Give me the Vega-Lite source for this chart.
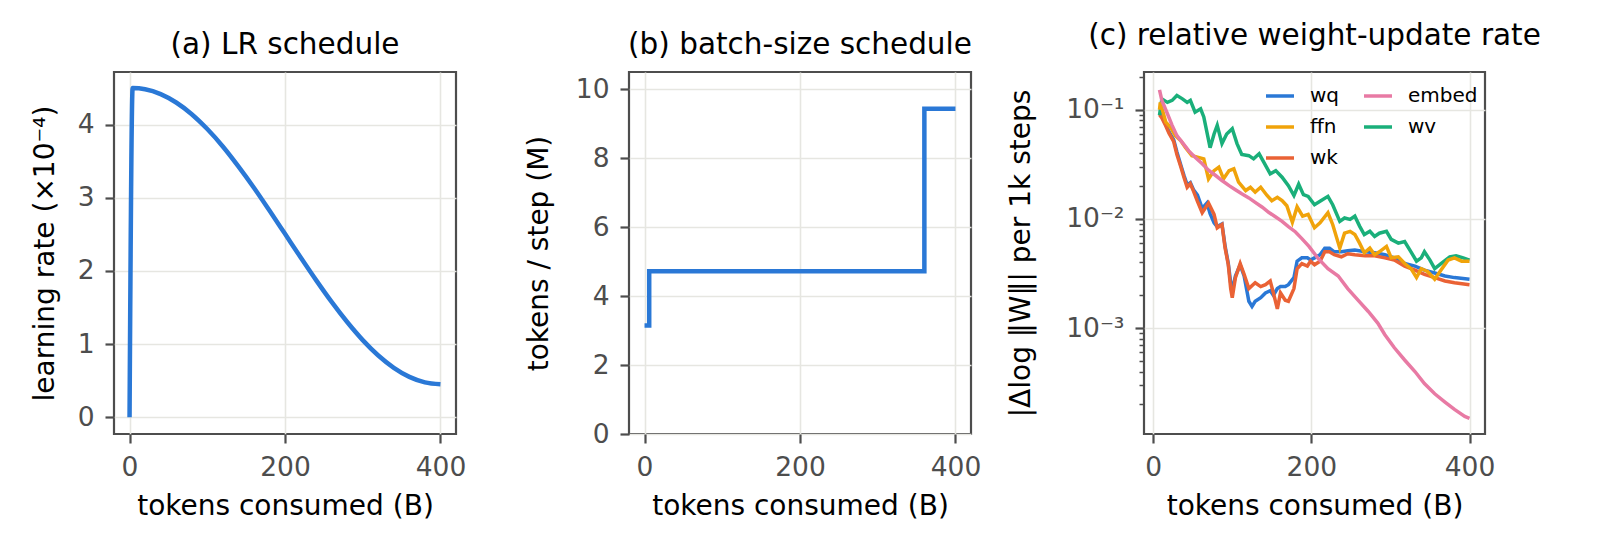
{
  "$schema": "https://vega.github.io/schema/vega-lite/v6.json",
  "background": "white",
  "padding": {"left": 30, "top": 20, "right": 10, "bottom": 10},
  "spacing": 173,
  "bounds": "flush",
  "resolve": {"legend": {"color": "independent"}},
  "datasets": {
    "lr": [
      {"tokens": 0, "lr": 0}, {"tokens": 4, "lr": 4.5}, {"tokens": 20, "lr": 4.484},
      {"tokens": 40, "lr": 4.418}, {"tokens": 60, "lr": 4.303}, {"tokens": 80, "lr": 4.143},
      {"tokens": 100, "lr": 3.94}, {"tokens": 120, "lr": 3.702}, {"tokens": 140, "lr": 3.43},
      {"tokens": 160, "lr": 3.138}, {"tokens": 180, "lr": 2.826}, {"tokens": 200, "lr": 2.507},
      {"tokens": 220, "lr": 2.187}, {"tokens": 240, "lr": 1.874}, {"tokens": 260, "lr": 1.576},
      {"tokens": 280, "lr": 1.301}, {"tokens": 300, "lr": 1.054}, {"tokens": 320, "lr": 0.843},
      {"tokens": 340, "lr": 0.675}, {"tokens": 360, "lr": 0.551}, {"tokens": 380, "lr": 0.476},
      {"tokens": 400, "lr": 0.45}
    ],
    "bs": [
      {"tokens": 0, "bs": 3.146}, {"tokens": 6, "bs": 4.719},
      {"tokens": 360, "bs": 9.437}, {"tokens": 400, "bs": 9.437}
    ],
    "upd": [
      {"s": "wq", "x": 8, "v": 0.095}, {"s": "wq", "x": 11, "v": 0.088}, {"s": "wq", "x": 16, "v": 0.073},
      {"s": "wq", "x": 20, "v": 0.063}, {"s": "wq", "x": 26, "v": 0.053}, {"s": "wq", "x": 30, "v": 0.041},
      {"s": "wq", "x": 35, "v": 0.031}, {"s": "wq", "x": 39, "v": 0.025}, {"s": "wq", "x": 43, "v": 0.0205},
      {"s": "wq", "x": 47, "v": 0.0215}, {"s": "wq", "x": 51, "v": 0.0185}, {"s": "wq", "x": 56, "v": 0.0165},
      {"s": "wq", "x": 62, "v": 0.0125}, {"s": "wq", "x": 68, "v": 0.014}, {"s": "wq", "x": 72, "v": 0.0112},
      {"s": "wq", "x": 77, "v": 0.0092}, {"s": "wq", "x": 81, "v": 0.0085}, {"s": "wq", "x": 87, "v": 0.009},
      {"s": "wq", "x": 91, "v": 0.0056}, {"s": "wq", "x": 95, "v": 0.0039}, {"s": "wq", "x": 98, "v": 0.0026},
      {"s": "wq", "x": 101, "v": 0.0024}, {"s": "wq", "x": 104, "v": 0.003}, {"s": "wq", "x": 110, "v": 0.0038},
      {"s": "wq", "x": 115, "v": 0.003}, {"s": "wq", "x": 121, "v": 0.00176}, {"s": "wq", "x": 125, "v": 0.00158},
      {"s": "wq", "x": 129, "v": 0.00176}, {"s": "wq", "x": 136, "v": 0.0019}, {"s": "wq", "x": 142, "v": 0.0021},
      {"s": "wq", "x": 148, "v": 0.0022}, {"s": "wq", "x": 152, "v": 0.002}, {"s": "wq", "x": 157, "v": 0.0023},
      {"s": "wq", "x": 161, "v": 0.0024}, {"s": "wq", "x": 167, "v": 0.0024}, {"s": "wq", "x": 171, "v": 0.0025},
      {"s": "wq", "x": 178, "v": 0.0029}, {"s": "wq", "x": 182, "v": 0.0041}, {"s": "wq", "x": 188, "v": 0.0044},
      {"s": "wq", "x": 195, "v": 0.0044}, {"s": "wq", "x": 199, "v": 0.0042}, {"s": "wq", "x": 204, "v": 0.0044},
      {"s": "wq", "x": 211, "v": 0.0047}, {"s": "wq", "x": 217, "v": 0.0054}, {"s": "wq", "x": 223, "v": 0.0054},
      {"s": "wq", "x": 229, "v": 0.005}, {"s": "wq", "x": 238, "v": 0.005}, {"s": "wq", "x": 246, "v": 0.0051},
      {"s": "wq", "x": 255, "v": 0.0052}, {"s": "wq", "x": 268, "v": 0.005}, {"s": "wq", "x": 280, "v": 0.0049},
      {"s": "wq", "x": 293, "v": 0.0047}, {"s": "wq", "x": 305, "v": 0.0044}, {"s": "wq", "x": 318, "v": 0.0039},
      {"s": "wq", "x": 331, "v": 0.0037}, {"s": "wq", "x": 343, "v": 0.0034}, {"s": "wq", "x": 356, "v": 0.0032},
      {"s": "wq", "x": 369, "v": 0.003}, {"s": "wq", "x": 381, "v": 0.0029}, {"s": "wq", "x": 400, "v": 0.0028},

      {"s": "wk", "x": 8, "v": 0.09}, {"s": "wk", "x": 11, "v": 0.084}, {"s": "wk", "x": 16, "v": 0.071},
      {"s": "wk", "x": 20, "v": 0.061}, {"s": "wk", "x": 26, "v": 0.051}, {"s": "wk", "x": 30, "v": 0.039},
      {"s": "wk", "x": 35, "v": 0.03}, {"s": "wk", "x": 39, "v": 0.024}, {"s": "wk", "x": 43, "v": 0.0195},
      {"s": "wk", "x": 47, "v": 0.021}, {"s": "wk", "x": 51, "v": 0.018}, {"s": "wk", "x": 56, "v": 0.0145},
      {"s": "wk", "x": 62, "v": 0.0114}, {"s": "wk", "x": 70, "v": 0.014}, {"s": "wk", "x": 77, "v": 0.011},
      {"s": "wk", "x": 81, "v": 0.0083}, {"s": "wk", "x": 87, "v": 0.0089}, {"s": "wk", "x": 91, "v": 0.0054},
      {"s": "wk", "x": 95, "v": 0.0038}, {"s": "wk", "x": 98, "v": 0.0023}, {"s": "wk", "x": 100, "v": 0.0019},
      {"s": "wk", "x": 104, "v": 0.0029}, {"s": "wk", "x": 110, "v": 0.0039}, {"s": "wk", "x": 115, "v": 0.0031},
      {"s": "wk", "x": 121, "v": 0.0023}, {"s": "wk", "x": 129, "v": 0.0026}, {"s": "wk", "x": 136, "v": 0.0024},
      {"s": "wk", "x": 142, "v": 0.0025}, {"s": "wk", "x": 148, "v": 0.0027}, {"s": "wk", "x": 152, "v": 0.0021},
      {"s": "wk", "x": 157, "v": 0.0015}, {"s": "wk", "x": 161, "v": 0.0021}, {"s": "wk", "x": 167, "v": 0.0018},
      {"s": "wk", "x": 171, "v": 0.00176}, {"s": "wk", "x": 178, "v": 0.0023}, {"s": "wk", "x": 182, "v": 0.0035},
      {"s": "wk", "x": 188, "v": 0.0039}, {"s": "wk", "x": 195, "v": 0.0037}, {"s": "wk", "x": 199, "v": 0.0041},
      {"s": "wk", "x": 204, "v": 0.0038}, {"s": "wk", "x": 211, "v": 0.0041}, {"s": "wk", "x": 217, "v": 0.005},
      {"s": "wk", "x": 223, "v": 0.005}, {"s": "wk", "x": 229, "v": 0.0047}, {"s": "wk", "x": 238, "v": 0.0045},
      {"s": "wk", "x": 246, "v": 0.0048}, {"s": "wk", "x": 255, "v": 0.0047}, {"s": "wk", "x": 268, "v": 0.0046},
      {"s": "wk", "x": 280, "v": 0.0046}, {"s": "wk", "x": 293, "v": 0.0044}, {"s": "wk", "x": 305, "v": 0.0042},
      {"s": "wk", "x": 318, "v": 0.0037}, {"s": "wk", "x": 331, "v": 0.0034}, {"s": "wk", "x": 343, "v": 0.0031},
      {"s": "wk", "x": 356, "v": 0.0029}, {"s": "wk", "x": 369, "v": 0.0027}, {"s": "wk", "x": 381, "v": 0.0026},
      {"s": "wk", "x": 400, "v": 0.0025},

      {"s": "wv", "x": 8, "v": 0.089}, {"s": "wv", "x": 11, "v": 0.126}, {"s": "wv", "x": 18, "v": 0.117},
      {"s": "wv", "x": 24, "v": 0.122}, {"s": "wv", "x": 30, "v": 0.135}, {"s": "wv", "x": 37, "v": 0.126},
      {"s": "wv", "x": 43, "v": 0.117}, {"s": "wv", "x": 47, "v": 0.122}, {"s": "wv", "x": 53, "v": 0.095},
      {"s": "wv", "x": 60, "v": 0.102}, {"s": "wv", "x": 64, "v": 0.086}, {"s": "wv", "x": 72, "v": 0.045},
      {"s": "wv", "x": 77, "v": 0.06}, {"s": "wv", "x": 81, "v": 0.072}, {"s": "wv", "x": 87, "v": 0.049},
      {"s": "wv", "x": 93, "v": 0.06}, {"s": "wv", "x": 100, "v": 0.067}, {"s": "wv", "x": 106, "v": 0.049},
      {"s": "wv", "x": 112, "v": 0.039}, {"s": "wv", "x": 121, "v": 0.038}, {"s": "wv", "x": 127, "v": 0.0355},
      {"s": "wv", "x": 134, "v": 0.0395}, {"s": "wv", "x": 140, "v": 0.033}, {"s": "wv", "x": 148, "v": 0.0259},
      {"s": "wv", "x": 155, "v": 0.0277}, {"s": "wv", "x": 163, "v": 0.0241}, {"s": "wv", "x": 171, "v": 0.0202},
      {"s": "wv", "x": 178, "v": 0.0164}, {"s": "wv", "x": 184, "v": 0.0208}, {"s": "wv", "x": 190, "v": 0.0167},
      {"s": "wv", "x": 196, "v": 0.0161}, {"s": "wv", "x": 204, "v": 0.0135}, {"s": "wv", "x": 211, "v": 0.0145},
      {"s": "wv", "x": 221, "v": 0.0161}, {"s": "wv", "x": 227, "v": 0.0135}, {"s": "wv", "x": 236, "v": 0.0095},
      {"s": "wv", "x": 242, "v": 0.0102}, {"s": "wv", "x": 249, "v": 0.0099}, {"s": "wv", "x": 255, "v": 0.0106},
      {"s": "wv", "x": 261, "v": 0.0086}, {"s": "wv", "x": 267, "v": 0.0072}, {"s": "wv", "x": 274, "v": 0.0077},
      {"s": "wv", "x": 280, "v": 0.0069}, {"s": "wv", "x": 286, "v": 0.0074}, {"s": "wv", "x": 295, "v": 0.0077},
      {"s": "wv", "x": 301, "v": 0.0065}, {"s": "wv", "x": 310, "v": 0.006}, {"s": "wv", "x": 318, "v": 0.0062},
      {"s": "wv", "x": 326, "v": 0.005}, {"s": "wv", "x": 333, "v": 0.0041}, {"s": "wv", "x": 339, "v": 0.0044},
      {"s": "wv", "x": 343, "v": 0.005}, {"s": "wv", "x": 350, "v": 0.0042}, {"s": "wv", "x": 356, "v": 0.0035},
      {"s": "wv", "x": 364, "v": 0.0039}, {"s": "wv", "x": 375, "v": 0.0045}, {"s": "wv", "x": 383, "v": 0.0046},
      {"s": "wv", "x": 392, "v": 0.0044}, {"s": "wv", "x": 400, "v": 0.0042},

      {"s": "ffn", "x": 8, "v": 0.1}, {"s": "ffn", "x": 9, "v": 0.117}, {"s": "ffn", "x": 16, "v": 0.077},
      {"s": "ffn", "x": 22, "v": 0.069}, {"s": "ffn", "x": 28, "v": 0.058}, {"s": "ffn", "x": 35, "v": 0.052},
      {"s": "ffn", "x": 41, "v": 0.045}, {"s": "ffn", "x": 49, "v": 0.038}, {"s": "ffn", "x": 56, "v": 0.0368},
      {"s": "ffn", "x": 64, "v": 0.0355}, {"s": "ffn", "x": 70, "v": 0.0233}, {"s": "ffn", "x": 77, "v": 0.0277},
      {"s": "ffn", "x": 83, "v": 0.0298}, {"s": "ffn", "x": 89, "v": 0.0233}, {"s": "ffn", "x": 96, "v": 0.0277},
      {"s": "ffn", "x": 102, "v": 0.0288}, {"s": "ffn", "x": 108, "v": 0.0217}, {"s": "ffn", "x": 117, "v": 0.0182},
      {"s": "ffn", "x": 123, "v": 0.0195}, {"s": "ffn", "x": 129, "v": 0.0176}, {"s": "ffn", "x": 136, "v": 0.0195},
      {"s": "ffn", "x": 144, "v": 0.0164}, {"s": "ffn", "x": 150, "v": 0.0147}, {"s": "ffn", "x": 157, "v": 0.0158},
      {"s": "ffn", "x": 163, "v": 0.0147}, {"s": "ffn", "x": 169, "v": 0.0132}, {"s": "ffn", "x": 176, "v": 0.0093},
      {"s": "ffn", "x": 182, "v": 0.0129}, {"s": "ffn", "x": 189, "v": 0.0106}, {"s": "ffn", "x": 196, "v": 0.011},
      {"s": "ffn", "x": 204, "v": 0.0083}, {"s": "ffn", "x": 211, "v": 0.0092}, {"s": "ffn", "x": 221, "v": 0.0114},
      {"s": "ffn", "x": 227, "v": 0.0089}, {"s": "ffn", "x": 236, "v": 0.0054}, {"s": "ffn", "x": 242, "v": 0.0074},
      {"s": "ffn", "x": 249, "v": 0.0077}, {"s": "ffn", "x": 255, "v": 0.0072}, {"s": "ffn", "x": 261, "v": 0.006},
      {"s": "ffn", "x": 267, "v": 0.0049}, {"s": "ffn", "x": 274, "v": 0.0054}, {"s": "ffn", "x": 280, "v": 0.0047},
      {"s": "ffn", "x": 286, "v": 0.005}, {"s": "ffn", "x": 295, "v": 0.0056}, {"s": "ffn", "x": 301, "v": 0.0044},
      {"s": "ffn", "x": 310, "v": 0.0045}, {"s": "ffn", "x": 318, "v": 0.0039}, {"s": "ffn", "x": 326, "v": 0.0035},
      {"s": "ffn", "x": 333, "v": 0.0029}, {"s": "ffn", "x": 339, "v": 0.0035}, {"s": "ffn", "x": 347, "v": 0.0033},
      {"s": "ffn", "x": 356, "v": 0.0028}, {"s": "ffn", "x": 364, "v": 0.0034}, {"s": "ffn", "x": 373, "v": 0.0042},
      {"s": "ffn", "x": 381, "v": 0.0044}, {"s": "ffn", "x": 390, "v": 0.0041}, {"s": "ffn", "x": 400, "v": 0.0041},

      {"s": "embed", "x": 8, "v": 0.152}, {"s": "embed", "x": 11, "v": 0.122}, {"s": "embed", "x": 18, "v": 0.092},
      {"s": "embed", "x": 24, "v": 0.072}, {"s": "embed", "x": 30, "v": 0.058}, {"s": "embed", "x": 37, "v": 0.05},
      {"s": "embed", "x": 45, "v": 0.042}, {"s": "embed", "x": 53, "v": 0.0368}, {"s": "embed", "x": 62, "v": 0.032},
      {"s": "embed", "x": 70, "v": 0.028}, {"s": "embed", "x": 79, "v": 0.025}, {"s": "embed", "x": 87, "v": 0.0225},
      {"s": "embed", "x": 96, "v": 0.0202}, {"s": "embed", "x": 104, "v": 0.0185}, {"s": "embed", "x": 112, "v": 0.017},
      {"s": "embed", "x": 121, "v": 0.0156}, {"s": "embed", "x": 129, "v": 0.0142}, {"s": "embed", "x": 138, "v": 0.0128},
      {"s": "embed", "x": 146, "v": 0.0115}, {"s": "embed", "x": 155, "v": 0.0104}, {"s": "embed", "x": 163, "v": 0.0095},
      {"s": "embed", "x": 171, "v": 0.0085}, {"s": "embed", "x": 180, "v": 0.0076}, {"s": "embed", "x": 188, "v": 0.0066},
      {"s": "embed", "x": 197, "v": 0.0056}, {"s": "embed", "x": 208, "v": 0.0044}, {"s": "embed", "x": 221, "v": 0.0035},
      {"s": "embed", "x": 234, "v": 0.003}, {"s": "embed", "x": 246, "v": 0.0023}, {"s": "embed", "x": 259, "v": 0.0018},
      {"s": "embed", "x": 272, "v": 0.00142}, {"s": "embed", "x": 284, "v": 0.00111}, {"s": "embed", "x": 293, "v": 0.00087},
      {"s": "embed", "x": 305, "v": 0.00066}, {"s": "embed", "x": 318, "v": 0.00051}, {"s": "embed", "x": 331, "v": 0.0004},
      {"s": "embed", "x": 343, "v": 0.00031}, {"s": "embed", "x": 356, "v": 0.00025}, {"s": "embed", "x": 369, "v": 0.00021},
      {"s": "embed", "x": 381, "v": 0.00018}, {"s": "embed", "x": 394, "v": 0.000155}, {"s": "embed", "x": 400, "v": 0.000149}
    ]
  },
  "hconcat": [
    {
      "title": "(a) LR schedule",
      "width": 342,
      "height": 362,
      "data": {"name": "lr"},
      "mark": {"type": "line", "color": "#2a78d6", "strokeWidth": 4.5, "interpolate": "monotone"},
      "encoding": {
        "x": {"field": "tokens", "type": "quantitative", "title": "tokens consumed (B)",
              "scale": {"domain": [-20, 420], "nice": false, "zero": false},
              "axis": {"values": [0, 200, 400]}},
        "y": {"field": "lr", "type": "quantitative", "title": "learning rate (×10⁻⁴)",
              "scale": {"domain": [-0.23, 4.72], "nice": false, "zero": false},
              "axis": {"values": [0, 1, 2, 3, 4]}}
      }
    },
    {
      "title": "(b) batch-size schedule",
      "width": 342,
      "height": 362,
      "data": {"name": "bs"},
      "mark": {"type": "line", "color": "#2a78d6", "strokeWidth": 4.5, "interpolate": "step-after"},
      "encoding": {
        "x": {"field": "tokens", "type": "quantitative", "title": "tokens consumed (B)",
              "scale": {"domain": [-20, 420], "nice": false, "zero": false},
              "axis": {"values": [0, 200, 400]}},
        "y": {"field": "bs", "type": "quantitative", "title": "tokens / step (M)",
              "scale": {"domain": [0, 10.5], "nice": false},
              "axis": {"values": [0, 2, 4, 6, 8, 10], "titlePadding": 22}}
      }
    },
    {
      "title": "(c) relative weight-update rate",
      "width": 341,
      "height": 362,
      "data": {"name": "upd"},
      "mark": {"type": "line", "strokeWidth": 3.5},
      "encoding": {
        "x": {"field": "x", "type": "quantitative", "title": "tokens consumed (B)",
              "scale": {"domain": [-11.6, 419.6], "nice": false, "zero": false},
              "axis": {"values": [0, 200, 400]}},
        "y": {"field": "v", "type": "quantitative", "title": "|Δlog ‖W‖| per 1k steps",
              "scale": {"type": "log", "domain": [0.000107, 0.222], "nice": false},
              "axis": {
                "values": [0.0002, 0.0003, 0.0004, 0.0005, 0.0006, 0.0007, 0.0008, 0.0009, 0.001,
                           0.002, 0.003, 0.004, 0.005, 0.006, 0.007, 0.008, 0.009, 0.01,
                           0.02, 0.03, 0.04, 0.05, 0.06, 0.07, 0.08, 0.09, 0.1, 0.2],
                "labelOverlap": false,
                "titlePadding": 30,
                "labelExpr": "datum.value === 0.1 ? '10⁻¹' : datum.value === 0.01 ? '10⁻²' : datum.value === 0.001 ? '10⁻³' : ''",
                "tickSize": {"condition": {"test": "datum.value === 0.1 || datum.value === 0.01 || datum.value === 0.001", "value": 9}, "value": 5},
                "tickWidth": {"condition": {"test": "datum.value === 0.1 || datum.value === 0.01 || datum.value === 0.001", "value": 2.2}, "value": 1.5},
                "gridOpacity": {"condition": {"test": "datum.value === 0.1 || datum.value === 0.01 || datum.value === 0.001", "value": 1}, "value": 0}
              }},
        "color": {"field": "s", "type": "nominal",
                  "scale": {"domain": ["wq", "ffn", "wk", "embed", "wv"],
                            "range": ["#2a78d6", "#f0a30a", "#ea6235", "#e87aa4", "#1aaf7a"]},
                  "legend": {"orient": "none", "legendX": 120, "legendY": 8, "columns": 2,
                             "title": null, "symbolType": "stroke", "symbolSize": 784,
                             "symbolStrokeWidth": 3.5, "labelFontSize": 20, "labelColor": "#000",
                             "labelOffset": 14, "columnPadding": 17, "rowPadding": 5}}
      }
    }
  ],
  "config": {
    "font": "DejaVu Sans",
    "view": {"stroke": "#4d4d4d", "strokeWidth": 2.2},
    "axis": {
      "domain": false, "grid": true, "gridColor": "#e6e6e1", "gridWidth": 1.6,
      "tickColor": "#4d4d4d", "tickSize": 9, "tickWidth": 2.2,
      "labelFontSize": 26.5, "labelColor": "#4d4d4d", "labelPadding": 11,
      "titleFontSize": 28, "titleColor": "#000000", "titleFontWeight": "normal"
    },
    "axisX": {"titlePadding": 12},
    "axisY": {"titlePadding": 18},
    "title": {"fontSize": 29.5, "fontWeight": "normal", "color": "#000000", "offset": 12}
  }
}
